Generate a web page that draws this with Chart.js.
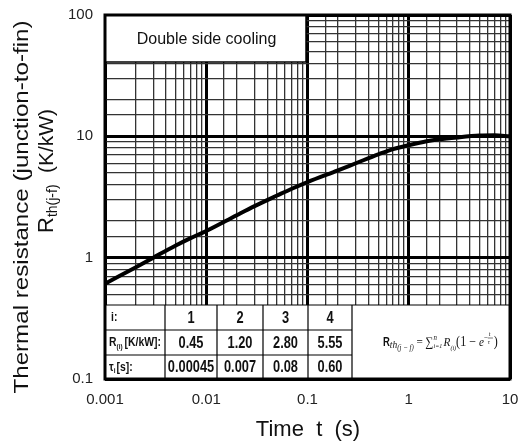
<!DOCTYPE html>
<html>
<head>
<meta charset="utf-8">
<style>
  html, body { margin: 0; padding: 0; background: #fff; }
  #wrap { width: 518px; height: 446px; }
</style>
</head>
<body>
<div id="wrap">
    <canvas id="myChart" width="518" height="446"></canvas>
</div>
<script src="https://cdn.jsdelivr.net/npm/chart.js"></script>
<script>
// data
const timeValues = [0.001, 0.002, 0.003, 0.005, 0.007, 0.01, 0.02, 0.03, 0.05, 0.07, 0.1, 0.2, 0.3, 0.5, 0.7, 1, 1.5, 2, 3, 5, 7, 10];
const zthValues  = [0.61, 0.83, 1.0, 1.26, 1.45, 1.66, 2.24, 2.66, 3.25, 3.7, 4.2, 5.25, 6.0, 7.1, 7.85, 8.45, 9.1, 9.45, 9.8, 10.15, 10.2, 10.0];

const xTickValues = [0.001, 0.01, 0.1, 1, 10];
const xTickLabels = ['0.001', '0.01', '0.1', '1', '10'];
const yTickValues = [0.1, 1, 10, 100];
const yTickLabels = ['0.1', '1', '10', '100'];

// table in the lower part of the plot
const stageLabels = ['1', '2', '3', '4'];
const rValues = ['0.45', '1.20', '2.80', '5.55'];
const tauValues = ['0.00045', '0.007', '0.08', '0.60'];

const isDecade = v => Math.abs(Math.log10(v) - Math.round(Math.log10(v))) < 1e-6;
const findLabel = (v, vals, labels) => {
    const i = vals.findIndex(x => Math.abs(Math.log10(x) - Math.log10(v)) < 1e-6);
    return i >= 0 ? labels[i] : '';
};

const chartCanvas = document.querySelector('#myChart');
const SANS = '"Liberation Sans", Arial, sans-serif';

// narrow bold text (no narrow font here, so squeeze it)
function narrowText(ctx, txt, x, y, size, align, sx) {
    sx = sx || 0.8;
    ctx.save();
    ctx.font = 'bold ' + size + 'px ' + SANS;
    const w = ctx.measureText(txt).width * sx;
    let left = x;
    if (align === 'center') left = x - w / 2;
    ctx.translate(left, y);
    ctx.scale(sx, 1);
    ctx.textAlign = 'left';
    ctx.fillText(txt, 0, 0);
    ctx.restore();
    return w;
}

// white boxes (title box + table) over the grid, then the frame
const overlayPlugin = {
    id: 'overlay',
    beforeDatasetsDraw(chart) {
        const ctx = chart.ctx;
        const a = chart.chartArea;
        const L = a.left, R = a.right, B = a.bottom, T = a.top;
        ctx.save();

        // "Double side cooling" box
        const bx2 = 306, by2 = 62;
        ctx.fillStyle = '#fff';
        ctx.fillRect(L, T, bx2 - L, by2 - T);
        ctx.strokeStyle = '#000';
        ctx.lineWidth = 1.5;
        ctx.strokeRect(L, T, bx2 - L, by2 - T);
        ctx.fillStyle = '#111';
        ctx.font = '16px ' + SANS;
        ctx.textAlign = 'center';
        ctx.textBaseline = 'middle';
        ctx.fillText('Double side cooling', (L + bx2) / 2 + 1, (T + by2) / 2 + 1);

        // table
        const tTop = 305;
        const rows = [tTop, 330, 355, B];
        const cols = [L, 165, 217, 263, 308, 352, R];
        ctx.fillStyle = '#fff';
        ctx.fillRect(L, tTop, R - L, B - tTop);
        ctx.strokeStyle = '#000';
        ctx.lineWidth = 1.2;
        ctx.beginPath();
        ctx.moveTo(L, tTop); ctx.lineTo(R, tTop);
        for (let r = 1; r < 3; r++) { ctx.moveTo(L, rows[r]); ctx.lineTo(cols[5], rows[r]); }
        for (let c = 1; c < 6; c++) { ctx.moveTo(cols[c], tTop); ctx.lineTo(cols[c], B); }
        ctx.stroke();

        ctx.fillStyle = '#111';
        ctx.textBaseline = 'middle';
        const rowMid = r => (rows[r] + rows[r + 1]) / 2;

        // row headers
        narrowText(ctx, 'i:', L + 6, rowMid(0), 13, 'left');
        let x = L + 4;
        x += narrowText(ctx, 'R', x, rowMid(1), 13, 'left');
        x += narrowText(ctx, '(i)', x, rowMid(1) + 4, 8, 'left') + 2;
        narrowText(ctx, '[K/kW]:', x, rowMid(1), 13, 'left');
        x = L + 4;
        x += narrowText(ctx, 'τ', x, rowMid(2), 13, 'left');
        x += narrowText(ctx, 'i', x, rowMid(2) + 4, 8, 'left') + 1;
        narrowText(ctx, '[s]:', x, rowMid(2), 13, 'left');

        // values
        for (let i = 0; i < 4; i++) {
            const cx = (cols[i + 1] + cols[i + 2]) / 2;
            narrowText(ctx, stageLabels[i], cx, rowMid(0) + 1, 16, 'center');
            narrowText(ctx, rValues[i], cx, rowMid(1) + 1, 16, 'center');
            narrowText(ctx, tauValues[i], cx, rowMid(2) + 1, 16, 'center');
        }

        // formula cell
        drawFormula(ctx, 383, (tTop + B) / 2 + 4);

        // frame
        ctx.strokeStyle = '#000';
        ctx.lineWidth = 3;
        ctx.strokeRect(L, T, R - L, B - T);
        ctx.restore();
    },
    afterDraw(chart) {
        const ctx = chart.ctx;
        ctx.save();
        ctx.fillStyle = '#111';
        ctx.textAlign = 'center';
        ctx.textBaseline = 'middle';

        // x title
        ctx.font = '22px ' + SANS;
        ctx.fillText('Time  t  (s)', 308, 430);

        // y title, first line
        ctx.translate(22, 207);
        ctx.rotate(-Math.PI / 2);
        ctx.scale(1.15, 1);
        ctx.font = '21px ' + SANS;
        ctx.fillText('Thermal resistance (junction-to-fin)', 0, 0);
        ctx.restore();

        // y title, second line: R_th(j-f)   (K/kW)
        ctx.save();
        ctx.fillStyle = '#111';
        ctx.translate(47, 233);
        ctx.rotate(-Math.PI / 2);
        ctx.textBaseline = 'middle';
        ctx.textAlign = 'left';
        ctx.font = '22px ' + SANS;
        const w1 = ctx.measureText('R').width;
        ctx.fillText('R', 0, 0);
        ctx.font = '14px ' + SANS;
        ctx.fillText('th(j-f)', w1, 6);
        ctx.font = '21px ' + SANS;
        ctx.textAlign = 'center';
        ctx.fillText('(K/kW)', 92, 0);
        ctx.restore();
    }
};

function drawFormula(ctx, x0, y) {
    const serif = '"Liberation Serif", "DejaVu Serif", serif';
    ctx.save();
    ctx.translate(x0, 0);
    ctx.scale(0.86, 1);
    let x = 0;
    ctx.textAlign = 'left';
    ctx.textBaseline = 'alphabetic';
    ctx.fillStyle = '#111';
    const put = (txt, font, dy) => {
        ctx.font = font;
        ctx.fillText(txt, x, y + dy);
        const w = ctx.measureText(txt).width;
        x += w;
        return w;
    };
    x += narrowText(ctx, 'R', x, y, 13, 'left', 0.85);
    put('th', 'italic 11px ' + serif, 2);
    put('(j − f)', 'italic 8px ' + serif, 4);
    put(' = ', '13px ' + serif, 0);
    put('∑', '13px ' + serif, 0);
    const sx = x;
    put('i=1', 'italic 7px ' + serif, 2);
    ctx.font = 'italic 8px ' + serif;
    ctx.fillText('n', sx, y - 6);
    put(' ', '6px ' + serif, 0);
    put('R', 'italic 13px ' + serif, 0);
    put('(i)', 'italic 7px ' + serif, 4);
    put('(1 − ', '14px ' + serif, 0);
    put('e', 'italic 13px ' + serif, 0);
    put('−', '8px ' + serif, -6);
    ctx.font = 'italic 7px ' + serif;
    ctx.fillText('t', x + 1, y - 10);
    ctx.fillText('τ', x, y - 2);
    ctx.lineWidth = 0.6;
    ctx.strokeStyle = '#111';
    ctx.beginPath(); ctx.moveTo(x, y - 8); ctx.lineTo(x + 6, y - 8); ctx.stroke();
    x += 7;
    put(')', '14px ' + serif, 0);
    ctx.restore();
}

new Chart(chartCanvas, {
    type: 'line',
    data: {
        labels: timeValues,
        datasets: [{
            data: timeValues.map((t, i) => ({ x: t, y: zthValues[i] })),
            borderColor: '#000',
            borderWidth: 4,
            pointRadius: 0,
            cubicInterpolationMode: 'monotone',
            fill: false
        }]
    },
    options: {
        responsive: false,
        animation: false,
        layout: { padding: { top: 15, right: 8, left: 0, bottom: 0 } },
        plugins: { legend: { display: false }, tooltip: { enabled: false } },
        scales: {
            x: {
                type: 'logarithmic',
                min: 0.001,
                max: 10,
                afterFit: s => { s.height = 67; s.paddingLeft = 0; s.paddingRight = 0; },
                border: { display: false },
                grid: {
                    drawTicks: false,
                    color: c => isDecade(c.tick.value) ? '#000' : '#333',
                    lineWidth: c => isDecade(c.tick.value) ? 3 : 1.3
                },
                ticks: {
                    autoSkip: false,
                    maxRotation: 0,
                    padding: 12,
                    color: '#222',
                    font: { family: SANS, size: 15 },
                    callback: v => findLabel(v, xTickValues, xTickLabels)
                }
            },
            y: {
                type: 'logarithmic',
                min: 0.1,
                max: 100,
                afterFit: s => { s.width = 105; s.paddingTop = 0; s.paddingBottom = 0; },
                border: { display: false },
                grid: {
                    drawTicks: false,
                    color: c => isDecade(c.tick.value) ? '#000' : '#333',
                    lineWidth: c => isDecade(c.tick.value) ? 3 : 1.3
                },
                ticks: {
                    autoSkip: false,
                    padding: 12,
                    color: '#222',
                    font: { family: SANS, size: 15 },
                    callback: v => findLabel(v, yTickValues, yTickLabels)
                }
            }
        }
    },
    plugins: [overlayPlugin]
});
</script>
</body>
</html>
